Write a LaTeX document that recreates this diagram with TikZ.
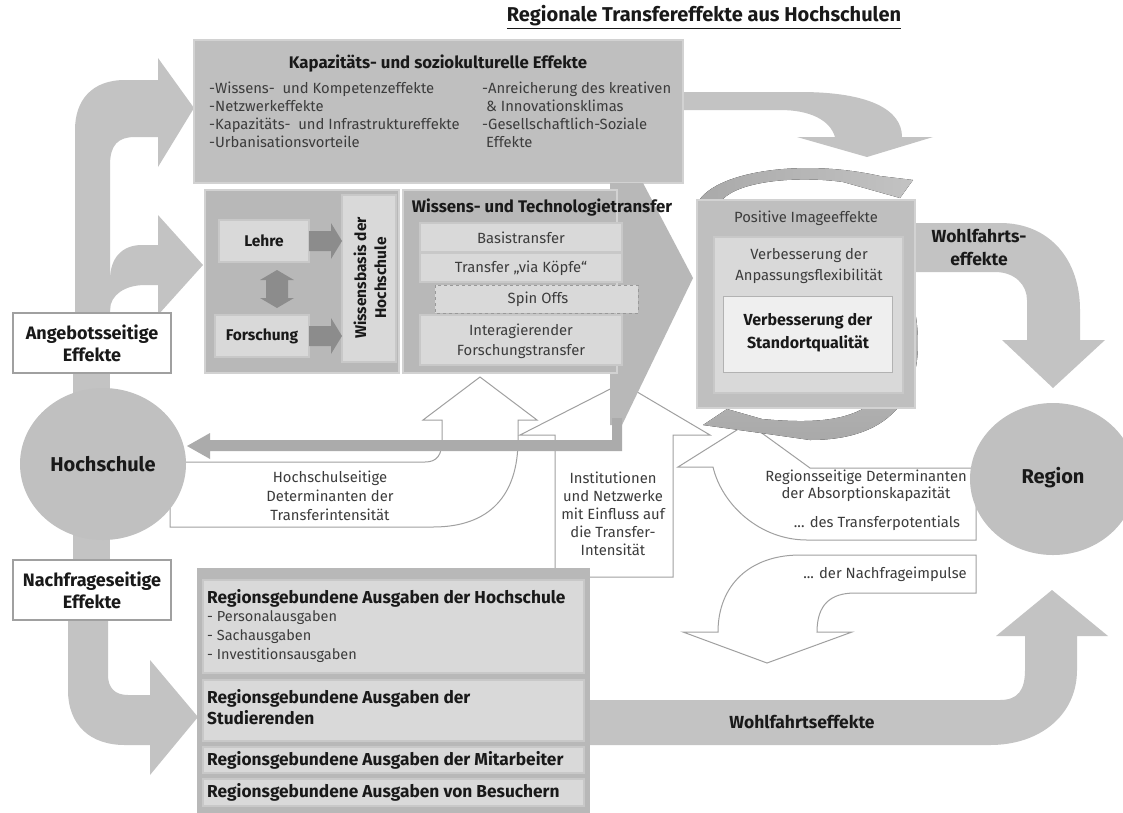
\documentclass[tikz,border=0pt]{standalone}
\usepackage{fontspec}
\setmainfont{Fira Sans}
\definecolor{arrc}{HTML}{C3C3C3}
\definecolor{boxc}{HTML}{BFBFBF}
\definecolor{boxb}{HTML}{D2D2D2}
\definecolor{midc}{HTML}{B8B8B8}
\definecolor{lightc}{HTML}{D9D9D9}
\definecolor{lightb}{HTML}{C8C8C8}
\definecolor{palec}{HTML}{EFEFEF}
\definecolor{darkc}{HTML}{8C8C8C}
\definecolor{outc}{HTML}{A0A0A0}
\definecolor{txtc}{HTML}{3C3C3C}
\definecolor{circc}{HTML}{C0C0C0}
\definecolor{ringc}{HTML}{A9A9A9}
\newcommand\fR{\fontsize{14.8}{18}\selectfont}
\newcommand\fS{\fontsize{14.5}{19}\selectfont}
\newcommand\fB{\fontsize{16.8}{20}\selectfont\bfseries}
\newcommand\fL{\fontsize{17.5}{23}\selectfont\bfseries}
\newcommand\fX{\fontsize{20}{22}\selectfont\bfseries}
\tikzset{
  txt/.style={inner sep=0, text=txtc, font=\fR},
  btxt/.style={inner sep=0, text=black!90, font=\fB},
  ltxt/.style={inner sep=0, text=black!90, font=\fL},
  outl/.style={draw=outc, line width=1pt, fill=white, line join=miter},
  garr/.style={fill=arrc},
  bigbox/.style={fill=boxc, draw=boxb, line width=2pt},
  innerbox/.style={fill=lightc, draw=lightb, line width=1.2pt},
  labbox/.style={fill=white, draw=outc, line width=1.5pt},
}
\begin{document}
\begin{tikzpicture}[x=1pt,y=-1pt]
\useasboundingbox (0,0) rectangle (1123,812);
\fill[white] (0,0) rectangle (1123,812);

% ---------- outline arrows (white) ----------
\draw[outl] (170,462) -- (425,462) .. controls (437,462) and (442,455) .. (442,440) -- (442,420) -- (423,420) -- (480,377) -- (537,420) -- (518,420) -- (518,440) .. controls (518,495) and (490,527) .. (433,527) -- (170,527) -- cycle;
\draw[outl] (555,580) -- (555,435) -- (520,435) -- (622,383) -- (710,435) -- (673,435) -- (673,577) -- (555,577);
\draw[outl] (976,468) -- (810,468) -- (748,423) -- (678,467) -- (713,467) .. controls (722,505) and (760,540) .. (807,540) -- (976,540) -- cycle;
\draw[outl] (976,555) -- (800,555) .. controls (750,555) and (718,585) .. (718,632) -- (683,632) -- (767,663) -- (852,632) -- (817,632) .. controls (817,605) and (830,593) .. (855,593) -- (976,593) -- cycle;

% ---------- big gray arrows ----------
% Angebotsseitige C-shape
\fill[garr] (75,330) -- (75,130) .. controls (75,100) and (92,80) .. (125,80) -- (158,80) -- (158,58) -- (194,108) -- (158,167) -- (158,137) -- (135,137) .. controls (118,137) and (110,145) .. (110,165) -- (110,330) -- cycle;
\fill[garr] (110,280) .. controls (110,258) and (122,245) .. (142,245) -- (158,245) -- (158,215) -- (203,265) -- (158,315) -- (158,285) -- (145,285) .. controls (125,285) and (110,295) .. (110,310) -- cycle;
% connectors at circle
\fill[garr] (73,370) rectangle (110,400);
\fill[garr] (73,530) rectangle (110,562);
% Nachfrageseitige arrow
\fill[garr] (68,615) -- (68,690) .. controls (68,725) and (90,745) .. (125,745) -- (150,745) -- (150,775) -- (198,717) -- (150,660) -- (150,695) -- (128,695) .. controls (115,695) and (108,688) .. (108,675) -- (108,615) -- cycle;
% K box -> image
\fill[garr] (680,92) -- (800,92) .. controls (870,92) and (902,110) .. (902,137) -- (933,137) -- (867,157) -- (797,137) -- (835,137) .. controls (830,120) and (810,110) .. (780,110) -- (680,110) -- cycle;
% Wohlfahrts- right
\fill[garr] (912,223) -- (1000,223) .. controls (1050,223) and (1080,260) .. (1080,310) -- (1080,340) -- (1105,340) -- (1053,388) -- (1002,340) -- (1027,340) -- (1027,300) .. controls (1027,285) and (1015,272) .. (995,272) -- (912,272) -- cycle;
% Wohlfahrtseffekte bottom
\fill[garr] (588,700) -- (1000,700) .. controls (1018,700) and (1025,690) .. (1025,670) -- (1025,636) -- (996,636) -- (1052,590) -- (1108,636) -- (1077,636) -- (1077,670) .. controls (1077,715) and (1040,745) .. (990,745) -- (588,745) -- cycle;

% ---------- top box ----------
\draw[bigbox] (194,40) rectangle (683,183);
\node[btxt] (ktitle) at (438,64) {Kapazitäts- und soziokulturelle Effekte};
\node[txt, anchor=west, align=left] (kleft) at (209,115) {-Wissens-\ \ und Kompetenzeffekte\\-Netzwerkeffekte\\-Kapazitäts-\ \ und Infrastruktureffekte\\-Urbanisationsvorteile};
\node[txt, anchor=west, align=left] (kright) at (482,115) {-Anreicherung des kreativen\\\hspace*{4pt}\& Innovationsklimas\\-Gesellschaftlich-Soziale\\\hspace*{4pt}Effekte};

% ---------- Lehre / Forschung ----------
\draw[fill=midc, draw=boxb, line width=1.5pt] (205,190) rectangle (399,373);
\draw[innerbox] (219,220) rectangle (309,262);
\draw[innerbox] (215,315) rectangle (309,357);
\draw[innerbox] (342,195) rectangle (396,362);
\node[btxt, font=\fontsize{15.5}{18}\selectfont\bfseries] (lehre) at (264,241) {Lehre};
\node[btxt, font=\fontsize{15.5}{18}\selectfont\bfseries] (forsch) at (262,336) {Forschung};
\node[btxt, rotate=90, align=center, font=\fontsize{15.5}{20}\selectfont\bfseries] (wbasis) at (370,278) {Wissensbasis der\\Hochschule};
\fill[darkc] (309,231) -- (331,231) -- (331,223) -- (342,241) -- (331,259) -- (331,251) -- (309,251) -- cycle;
\fill[darkc] (309,326) -- (331,326) -- (331,318) -- (342,336) -- (331,354) -- (331,346) -- (309,346) -- cycle;
\fill[darkc] (266,280) -- (266,298) -- (260,298) -- (277,308) -- (294,298) -- (288,298) -- (288,280) -- (294,280) -- (277,270) -- (260,280) -- cycle;

% ---------- Wissens- und Technologietransfer ----------
\fill[midc] (610,183) -- (643,183) -- (693,278) -- (622,425) -- (610,425) -- cycle;
\fill[fill=black!33] (612,418) -- (622,418) -- (622,451) -- (210,451) -- (210,459) -- (187,446) -- (210,433) -- (210,440) -- (612,440) -- cycle;
\draw[fill=midc, draw=boxb, line width=1.5pt] (403,190) rectangle (617,373);
\node[btxt] (wtitle) at (542,208) {Wissens- und Technologietransfer};
\draw[innerbox] (420,223) rectangle (622,252);
\draw[innerbox] (420,253) rectangle (622,282);
\draw[fill=lightc, draw=black!40, dashed, line width=0.8pt] (435,285) rectangle (638,313);
\draw[innerbox] (420,315) rectangle (622,365);
\node[txt] (basis) at (521,238) {Basistransfer};
\node[txt] (koepfe) at (521,268) {Transfer „via Köpfe“};
\node[txt] (spin) at (538,299) {Spin Offs};
\node[txt, align=center, font=\fontsize{14.8}{20}\selectfont] (inter) at (521,341) {Interagierender\\Forschungstransfer};

% ---------- Image box with ring ----------
\fill[left color=ringc, right color=arrc] (697,204) .. controls (712,172) and (800,158) .. (880,176) -- (913,180) -- (900,198) -- (843,182) .. controls (800,176) and (740,180) .. (722,200) -- cycle;
\fill[top color=arrc, bottom color=ringc] (913,300) .. controls (930,380) and (905,440) .. (810,440) -- (775,435) -- (703,425) -- (727,409) -- (762,419) .. controls (860,428) and (905,410) .. (905,300) -- cycle;
\draw[fill=boxc, draw=boxb, line width=1.5pt] (697,200) rectangle (915,408);
\draw[fill=lightc, draw=lightb, line width=1.5pt] (714,237) rectangle (903,393);
\draw[fill=palec, draw=black!30, line width=1pt] (723,296) rectangle (892,372);
\node[txt] (posimg) at (806,218) {Positive Imageeffekte};
\node[txt, align=center, font=\fontsize{14.8}{21}\selectfont] (anpass) at (809,266) {Verbesserung der\\Anpassungsflexibilität};
\node[btxt, align=center, font=\fontsize{16}{23}\selectfont\bfseries] (stand) at (808,333) {Verbesserung der\\Standortqualität};
\node[ltxt, align=center] (wohl1) at (979,247) {Wohlfahrts-\\effekte};

% ---------- circles ----------
\fill[circc] (103,464) ellipse [x radius=83, y radius=76];
\fill[circc] (1053,479) ellipse [x radius=83, y radius=76];
\node[inner sep=0, font=\fX, text=black!90] (hs) at (103,464) {Hochschule};
\node[inner sep=0, font=\fX, text=black!90] (reg) at (1053,478) {Region};

% ---------- label boxes left ----------
\draw[labbox] (13,313) rectangle (171,373);
\node[btxt, align=center, font=\fontsize{18}{22}\selectfont\bfseries] (angebot) at (92,343) {Angebotsseitige\\Effekte};
\draw[labbox] (13,560) rectangle (171,620);
\node[btxt, align=center, font=\fontsize{18}{22}\selectfont\bfseries] (nachfrage) at (92,590) {Nachfrageseitige\\Effekte};

% ---------- outline arrow texts ----------
\node[txt, align=center, font=\fontsize{14.8}{19}\selectfont] (hsdet) at (330,496) {Hochschulseitige\\Determinanten der\\Transferintensität};
\node[txt, align=center, font=\fontsize{14.8}{18}\selectfont] (inst) at (613,514) {Institutionen\\und Netzwerke\\mit Einfluss auf\\die Transfer-\\Intensität};
\node[txt, align=center, font=\fontsize{14.8}{17}\selectfont] (regdet) at (866,486) {Regionsseitige Determinanten\\der Absorptionskapazität};
\node[txt] (tpot) at (877,523) {... des Transferpotentials};
\node[txt] (nimp) at (885,574) {... der Nachfrageimpulse};

% ---------- bottom box ----------
\fill[midc] (197,568) rectangle (590,815);
\draw[innerbox] (203,580) rectangle (584,673);
\draw[innerbox] (203,680) rectangle (584,741);
\draw[innerbox] (203,747) rectangle (584,773);
\draw[innerbox] (203,779) rectangle (584,806);
\node[btxt, anchor=west, font=\fontsize{17.3}{21}\selectfont\bfseries] (rg1) at (207,598) {Regionsgebundene Ausgaben der Hochschule};
\node[txt, anchor=west, align=left, font=\fS] (rg1l) at (207,637) {- Personalausgaben\\- Sachausgaben\\- Investitionsausgaben};
\node[btxt, anchor=west, align=left, font=\fontsize{17.3}{21}\selectfont\bfseries] (rg2) at (207,707) {Regionsgebundene Ausgaben der\\Studierenden};
\node[btxt, anchor=west, font=\fontsize{17.3}{21}\selectfont\bfseries] (rg3) at (207,760) {Regionsgebundene Ausgaben der Mitarbeiter};
\node[btxt, anchor=west, font=\fontsize{17.3}{21}\selectfont\bfseries] (rg4) at (207,792) {Regionsgebundene Ausgaben von Besuchern};
\node[ltxt] (wohl2) at (802,722) {Wohlfahrtseffekte};

% ---------- title ----------
\node[inner sep=0, font=\fontsize{20}{22}\selectfont\bfseries, text=black!90] (title) at (704,17) {\underline{Regionale Transfereffekte aus Hochschulen}};
\end{tikzpicture}
\end{document}
